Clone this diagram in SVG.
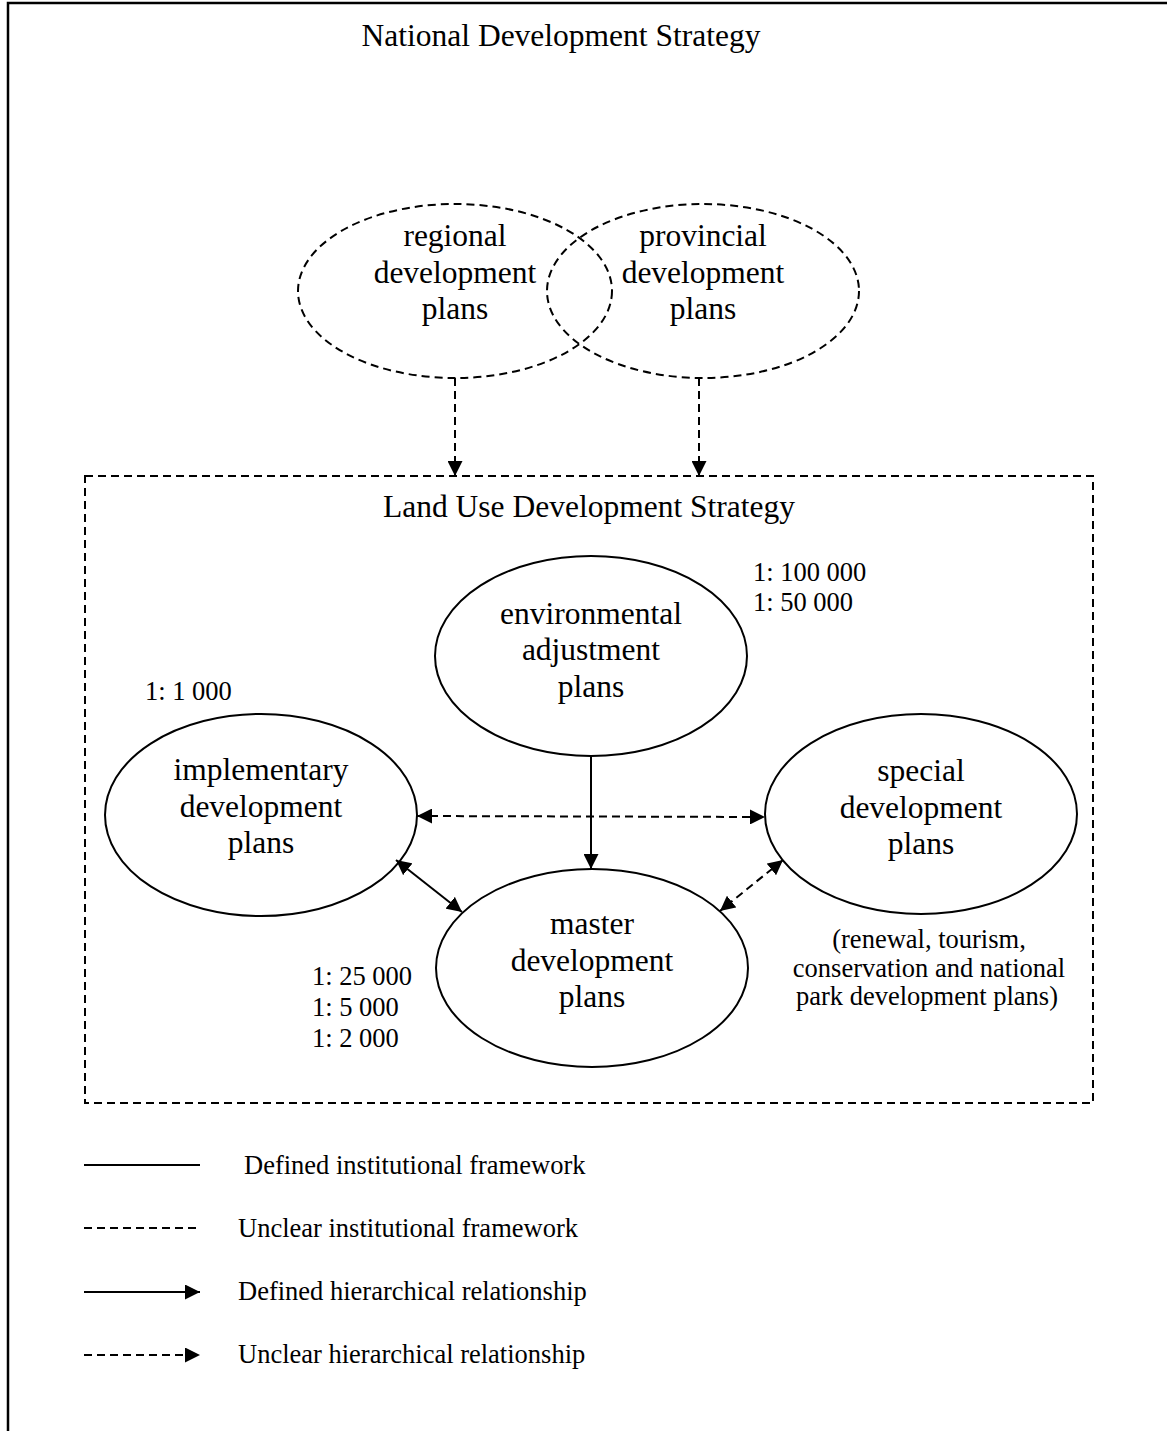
<svg xmlns="http://www.w3.org/2000/svg" width="1167" height="1431" viewBox="0 0 1167 1431">
<style>
.t{font-family:"Liberation Serif","Times New Roman",serif;font-size:31.5px;fill:#000;text-anchor:middle}
.s{font-family:"Liberation Serif","Times New Roman",serif;font-size:26.5px;fill:#000}
.sc{text-anchor:middle}
.solid{fill:none;stroke:#000;stroke-width:2}
.dash{fill:none;stroke:#000;stroke-width:2;stroke-dasharray:8,5}
</style>
<defs>
<marker id="ah" viewBox="0 0 10 10" refX="10" refY="5" markerWidth="15" markerHeight="15" markerUnits="userSpaceOnUse" orient="auto-start-reverse"><path d="M0,0 L10,5 L0,10 z" fill="#000"/></marker>
</defs>
<rect width="1167" height="1431" fill="#fff"/>
<path d="M8,1431 V3 H1167" fill="none" stroke="#000" stroke-width="2.5"/>
<g id="national"><text class="t" x="561" y="46">National Development Strategy</text></g>
<g id="regional"><ellipse class="dash" cx="455" cy="291" rx="157" ry="87"/>
<text class="t" x="455" y="246">regional</text><text class="t" x="455" y="283">development</text><text class="t" x="455" y="319">plans</text></g>
<g id="provincial"><ellipse class="dash" cx="703" cy="291" rx="156" ry="87"/>
<text class="t" x="703" y="246">provincial</text><text class="t" x="703" y="283">development</text><text class="t" x="703" y="319">plans</text></g>
<g id="landuse"><rect class="dash" x="85" y="476" width="1008" height="627"/>
<text class="t" x="589" y="517">Land Use Development Strategy</text></g>
<g id="environmental"><ellipse class="solid" cx="591" cy="656" rx="156" ry="100"/>
<text class="t" x="591" y="624">environmental</text><text class="t" x="591" y="660">adjustment</text><text class="t" x="591" y="697">plans</text></g>
<g id="scale-env"><text class="s" x="753" y="581">1: 100 000</text><text class="s" x="753" y="611">1: 50 000</text></g>
<g id="implementary"><ellipse class="solid" cx="261" cy="815" rx="156" ry="101"/>
<text class="t" x="261" y="780">implementary</text><text class="t" x="261" y="817">development</text><text class="t" x="261" y="853">plans</text></g>
<g id="scale-impl"><text class="s" x="145" y="700">1: 1 000</text></g>
<g id="special"><ellipse class="solid" cx="921" cy="814" rx="156" ry="100"/>
<text class="t" x="921" y="781">special</text><text class="t" x="921" y="818">development</text><text class="t" x="921" y="854">plans</text></g>
<g id="special-note"><text class="s sc" x="929" y="948">(renewal, tourism,</text><text class="s sc" x="929" y="977">conservation and national</text><text class="s sc" x="927" y="1005">park development plans)</text></g>
<g id="master"><ellipse class="solid" cx="592" cy="968" rx="156" ry="99"/>
<text class="t" x="592" y="934">master</text><text class="t" x="592" y="971">development</text><text class="t" x="592" y="1007">plans</text></g>
<g id="scale-master"><text class="s" x="312" y="985">1: 25 000</text><text class="s" x="312" y="1016">1: 5 000</text><text class="s" x="312" y="1047">1: 2 000</text></g>
<g id="connectors">
<line class="dash" x1="455" y1="378" x2="455" y2="476" marker-end="url(#ah)"/>
<line class="dash" x1="699" y1="378" x2="699" y2="476" marker-end="url(#ah)"/>
<line class="solid" x1="591" y1="756" x2="591" y2="869" marker-end="url(#ah)"/>
<line class="dash" x1="417" y1="816" x2="765" y2="817" marker-start="url(#ah)" marker-end="url(#ah)"/>
<line class="solid" x1="396" y1="860" x2="462" y2="912" marker-start="url(#ah)" marker-end="url(#ah)"/>
<line class="dash" x1="783" y1="860" x2="720" y2="911" marker-start="url(#ah)" marker-end="url(#ah)"/>
</g>
<g id="legend">
<line class="solid" x1="84" y1="1165" x2="200" y2="1165"/>
<text class="s" x="244" y="1174">Defined institutional framework</text>
<line class="dash" x1="84" y1="1228" x2="200" y2="1228" stroke-dasharray="7,6"/>
<text class="s" x="238" y="1237">Unclear institutional framework</text>
<line class="solid" x1="84" y1="1292" x2="200" y2="1292" marker-end="url(#ah)"/>
<text class="s" x="238" y="1300">Defined hierarchical relationship</text>
<line class="dash" x1="84" y1="1355" x2="200" y2="1355" stroke-dasharray="7,6" marker-end="url(#ah)"/>
<text class="s" x="238" y="1363">Unclear hierarchical relationship</text>
</g>
</svg>
